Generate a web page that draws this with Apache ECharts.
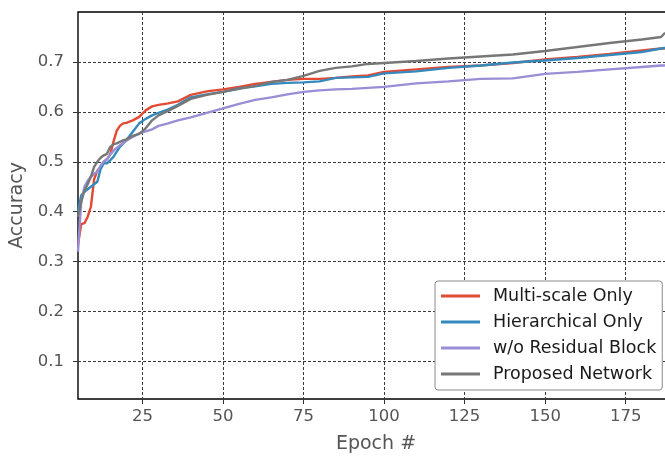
<!DOCTYPE html>
<html>
<head>
<meta charset="utf-8">
<script src="https://cdn.jsdelivr.net/npm/echarts@6/dist/echarts.min.js"></script>
<style>
  html, body { margin: 0; padding: 0; background: #fff; }
  #chart { width: 665px; height: 456px; }
</style>
</head>
<body>
<div id="chart"></div>
<script>
// Validation accuracy per epoch for the four model variants
const epochs = [5, 6, 7, 8, 9, 10, 11, 12, 13, 14, 15, 16, 17, 18, 19, 20, 22, 24, 26, 28, 30, 33, 36, 40, 45, 50, 55, 60, 65, 70, 75, 80, 85, 90, 95, 100, 110, 120, 130, 140, 150, 160, 170, 180, 186, 187, 190];

const multiScaleOnly = [0.335, 0.375, 0.377, 0.39, 0.41, 0.465, 0.482, 0.49, 0.5, 0.505, 0.515, 0.54, 0.562, 0.572, 0.577, 0.578, 0.583, 0.59, 0.603, 0.611, 0.614, 0.617, 0.621, 0.634, 0.641, 0.645, 0.65, 0.656, 0.66, 0.664, 0.666, 0.666, 0.668, 0.671, 0.673, 0.68, 0.685, 0.69, 0.693, 0.698, 0.705, 0.71, 0.716, 0.723, 0.727, 0.727, 0.728];

const hierarchicalOnly = [0.40, 0.433, 0.44, 0.445, 0.45, 0.455, 0.46, 0.485, 0.497, 0.497, 0.503, 0.51, 0.52, 0.53, 0.537, 0.543, 0.56, 0.577, 0.586, 0.593, 0.598, 0.605, 0.614, 0.629, 0.635, 0.64, 0.647, 0.651, 0.656, 0.658, 0.659, 0.661, 0.668, 0.669, 0.67, 0.677, 0.681, 0.688, 0.693, 0.699, 0.703, 0.708, 0.714, 0.72, 0.727, 0.728, 0.729];

const noResidualBlock = [0.32, 0.42, 0.45, 0.462, 0.47, 0.476, 0.48, 0.492, 0.5, 0.505, 0.515, 0.522, 0.528, 0.533, 0.537, 0.542, 0.55, 0.557, 0.561, 0.565, 0.572, 0.577, 0.583, 0.589, 0.598, 0.607, 0.616, 0.624, 0.629, 0.635, 0.64, 0.643, 0.645, 0.646, 0.648, 0.65, 0.657, 0.661, 0.666, 0.667, 0.676, 0.68, 0.685, 0.69, 0.693, 0.693, 0.694];

const proposedNetwork = [0.39, 0.42, 0.442, 0.455, 0.47, 0.49, 0.5, 0.508, 0.513, 0.516, 0.53, 0.535, 0.537, 0.54, 0.543, 0.545, 0.552, 0.556, 0.567, 0.583, 0.593, 0.602, 0.612, 0.626, 0.634, 0.64, 0.646, 0.652, 0.66, 0.664, 0.672, 0.682, 0.688, 0.691, 0.696, 0.698, 0.702, 0.707, 0.711, 0.715, 0.722, 0.73, 0.738, 0.745, 0.75, 0.757, 0.76];

const xTicks = [25, 50, 75, 100, 125, 150, 175];
const yTicks = [0.1, 0.2, 0.3, 0.4, 0.5, 0.6, 0.7];

const seriesDefs = [
  { name: 'Multi-scale Only', values: multiScaleOnly, color: '#E24A33' },
  { name: 'Hierarchical Only', values: hierarchicalOnly, color: '#348ABD' },
  { name: 'w/o Residual Block', values: noResidualBlock, color: '#988ED5' },
  { name: 'Proposed Network', values: proposedNetwork, color: '#777777' }
];

const FONT = '"DejaVu Sans", sans-serif';
const gridLine = { show: true, lineStyle: { color: '#3a3a3a', width: 1, type: [3, 2] } };

const chart = echarts.init(document.getElementById('chart'), null, { renderer: 'canvas' });

chart.setOption({
  animation: false,
  backgroundColor: '#ffffff',
  // plot area runs slightly past the right edge of the page
  grid: {
    left: 78, top: 12, right: -9, bottom: 57,
    outerBoundsMode: 'none',
    containLabel: false,
    show: true, borderColor: '#000', borderWidth: 1.4, backgroundColor: 'transparent'
  },
  xAxis: {
    type: 'value',
    min: 5, max: 190,
    name: 'Epoch #',
    nameLocation: 'middle',
    nameGap: 36,
    nameTextStyle: { fontFamily: FONT, fontSize: 19, color: '#555' },
    axisLine: { show: false },
    axisTick: { show: true, inside: false, length: 5, customValues: xTicks, lineStyle: { color: '#333', width: 1 } },
    axisLabel: { customValues: xTicks, fontFamily: FONT, fontSize: 16.5, color: '#555', margin: 9 },
    splitLine: gridLine
  },
  yAxis: {
    type: 'value',
    min: 0.025, max: 0.8,
    name: 'Accuracy',
    nameLocation: 'middle',
    nameGap: 50,
    nameTextStyle: { fontFamily: FONT, fontSize: 19, color: '#555' },
    axisLine: { show: false },
    axisTick: { show: true, inside: false, length: 5, customValues: yTicks, lineStyle: { color: '#333', width: 1 } },
    axisLabel: { customValues: yTicks, fontFamily: FONT, fontSize: 16.5, color: '#555', margin: 14,
      formatter: v => v.toFixed(1) },
    splitLine: gridLine
  },
  legend: {
    orient: 'vertical',
    left: 435, top: 281,
    padding: [6, 6, 7, 6],
    itemGap: 8,
    itemWidth: 39,
    itemHeight: 3,
    icon: 'rect',
    backgroundColor: '#ffffff',
    borderColor: '#8a8a8a',
    borderWidth: 1,
    borderRadius: 3,
    textStyle: { fontFamily: FONT, fontSize: 17.5, color: '#1a1a1a', lineHeight: 18, padding: [0, 0, 0, 8] },
    data: seriesDefs.map(s => s.name)
  },
  series: seriesDefs.map(s => ({
    name: s.name,
    type: 'line',
    data: epochs.map((e, i) => [e, s.values[i]]),
    showSymbol: false,
    symbol: 'none',
    lineStyle: { color: s.color, width: 2.4 },
    itemStyle: { color: s.color },
    clip: true
  }))
});
</script>
</body>
</html>
